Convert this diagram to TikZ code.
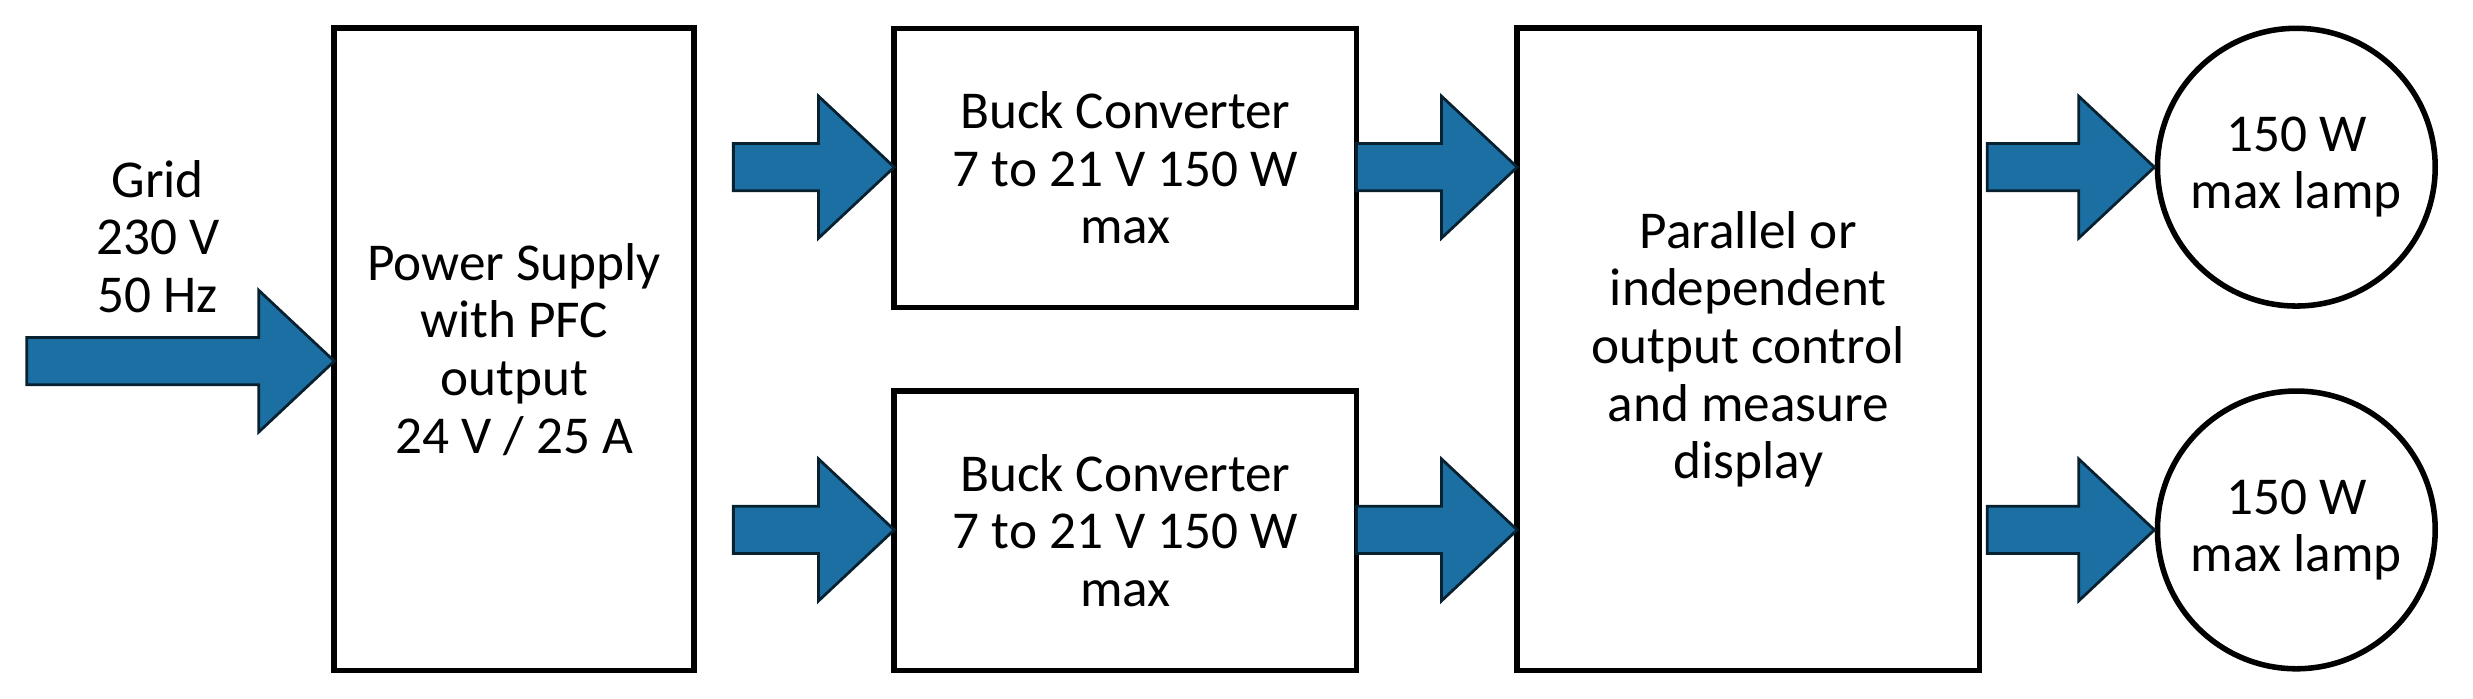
\documentclass[tikz,border=0pt]{standalone}
\usepackage{fontspec}
\setmainfont{Carlito}
\definecolor{ab}{HTML}{1B6FA3}
\newcommand{\blockarrow}[3]{% x1 x2 y
  \pgfmathsetmacro{\hx}{#2-48}
  \fill[ab,draw=black!70!ab,line width=0.5pt] (#1,#3+15) -- (\hx,#3+15) -- (\hx,#3+45) -- (#2,#3) -- (\hx,#3-45) -- (\hx,#3-15) -- (#1,#3-15) -- cycle;}
\begin{document}
\begin{tikzpicture}[x=0.01cm,y=-0.01cm,
  box/.style={draw,line width=1pt,align=center,font=\fontsize{9.6}{10.4}\selectfont},
  lamp/.style={draw,circle,line width=1pt,minimum size=1.76cm,align=center,inner sep=0pt,font=\fontsize{9.6}{10.4}\selectfont}]
\useasboundingbox (0,0) rectangle (1568,443);
\node[box,minimum width=2.28cm,minimum height=4.07cm] (ps) at (326,221.5) {Power Supply\\with PFC\\output\\24 V / 25 A};
\node[box,minimum width=2.93cm,minimum height=1.77cm] (b1) at (713.5,106.5) {Buck Converter\\7 to 21 V 150 W\\max};
\node[box,minimum width=2.93cm,minimum height=1.77cm] (b2) at (713.5,336.5) {Buck Converter\\7 to 21 V 150 W\\max};
\node[box,minimum width=2.93cm,minimum height=4.07cm] (ctl) at (1108.5,221.5) {Parallel or\\independent\\output control\\and measure\\display};
\node[lamp] (l1) at (1456,106) {150 W\\max lamp};
\node[lamp] (l2) at (1456,336) {150 W\\max lamp};
\node[align=center,font=\fontsize{9.6}{10.4}\selectfont] (grid) at (100,150) {Grid\\230 V\\50 Hz};
\blockarrow{17}{212}{229}
\blockarrow{465}{567}{106}
\blockarrow{465}{567}{336}
\blockarrow{860}{962}{106}
\blockarrow{860}{962}{336}
\blockarrow{1260}{1366}{106}
\blockarrow{1260}{1366}{336}
\end{tikzpicture}
\end{document}
